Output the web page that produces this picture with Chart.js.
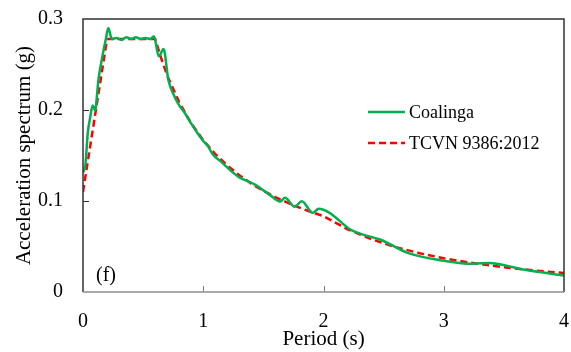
<!DOCTYPE html>
<html>
<head>
<meta charset="utf-8">
<script src="https://cdn.jsdelivr.net/npm/chart.js@4.4.1/dist/chart.umd.min.js"></script>
<style>
    html, body { margin: 0; padding: 0; background: #fff; }
    #wrap { width: 571px; height: 352px; }
</style>
</head>
<body>
<div id="wrap"><canvas id="spectrum"></canvas></div>
<script>
// 
// Values.
// 
var coalingaPeriod = [0, 0.02, 0.04, 0.06, 0.08, 0.10, 0.13, 0.16, 0.19, 0.21, 0.24, 0.28, 0.32,
    0.36, 0.40, 0.44, 0.48, 0.52, 0.56, 0.59, 0.63, 0.67, 0.71, 0.76, 0.80, 0.84, 0.90, 0.95,
    1.00, 1.04, 1.08, 1.15, 1.24, 1.30, 1.43, 1.55, 1.64, 1.68, 1.76, 1.82, 1.91, 1.96, 2.05,
    2.22, 2.33, 2.47, 2.70, 2.97, 3.24, 3.38, 3.52, 3.66, 3.80, 4.00];
var coalingaAccel = [0.131, 0.140, 0.175, 0.192, 0.205, 0.200, 0.235, 0.258, 0.278, 0.290, 0.278,
    0.279, 0.277, 0.280, 0.278, 0.280, 0.278, 0.279, 0.278, 0.281, 0.259, 0.267, 0.233, 0.215,
    0.205, 0.198, 0.185, 0.175, 0.166, 0.160, 0.151, 0.143, 0.132, 0.126, 0.118, 0.107, 0.0995,
    0.1035, 0.0937, 0.0998, 0.087, 0.0914, 0.087, 0.069, 0.063, 0.0577, 0.043, 0.035, 0.031,
    0.032, 0.029, 0.0247, 0.022, 0.018];

var tcvnPeriod = [0, 0.2, 0.6, 0.65, 0.7, 0.8, 0.9, 1.0, 1.1, 1.2, 1.3, 1.4, 1.5, 1.6, 1.7, 1.8,
    1.9, 2.0, 2.2, 2.4, 2.6, 2.8, 3.0, 3.2, 3.4, 3.6, 3.8, 4.0];
var tcvnAccel = [0.110, 0.278, 0.278, 0.257, 0.238, 0.2085, 0.1853, 0.1668, 0.1516, 0.139, 0.1283,
    0.1191, 0.1112, 0.1043, 0.0981, 0.0927, 0.0878, 0.0834, 0.0689, 0.0579, 0.0493, 0.0426,
    0.0371, 0.0326, 0.0289, 0.0257, 0.0231, 0.0209];

var seriesNames = ['Coalinga', 'TCVN 9386:2012'];
var xTicks = [0, 1, 2, 3, 4];
var yTicks = [0, 0.1, 0.2, 0.3];

var serif = "'Liberation Serif', 'Times New Roman', serif";

function toPoints(xs, ys) {
    var pts = [];
    for (var i = 0; i < xs.length; ++i) {
        pts.push({x: xs[i], y: ys[i]});
    }
    return pts;
}

// 
// Inner tick marks, plot frame, legend and panel label.
// 
var decorations = {
    id: 'decorations',
    afterDatasetsDraw: function (chart) {
        var ctx = chart.ctx, area = chart.chartArea;
        var xs = chart.scales.x, ys = chart.scales.y;

        ctx.save();
        ctx.lineWidth = 1;
        ctx.strokeStyle = '#7f7f7f';
        xTicks.slice(1, -1).forEach(function (v) {
            var px = Math.round(xs.getPixelForValue(v)) + 0.5;
            ctx.beginPath();
            ctx.moveTo(px, area.bottom);
            ctx.lineTo(px, area.bottom - 6);
            ctx.stroke();
        });
        ctx.strokeStyle = '#333';
        yTicks.slice(1, -1).forEach(function (v) {
            var py = Math.round(ys.getPixelForValue(v)) + 0.5;
            ctx.beginPath();
            ctx.moveTo(area.left, py);
            ctx.lineTo(area.left + 6, py);
            ctx.stroke();
        });

        // frame
        ctx.lineWidth = 1.5;
        ctx.strokeStyle = '#333';
        ctx.beginPath();
        ctx.moveTo(area.left, area.bottom);
        ctx.lineTo(area.left, area.top);
        ctx.lineTo(area.right, area.top);
        ctx.lineTo(area.right, area.bottom);
        ctx.stroke();
        ctx.strokeStyle = '#8c8c8c';
        ctx.beginPath();
        ctx.moveTo(area.left, area.bottom);
        ctx.lineTo(area.right, area.bottom);
        ctx.stroke();

        // legend
        ctx.font = '18px ' + serif;
        ctx.textBaseline = 'middle';
        ctx.fillStyle = '#000';
        var rows = [112, 143];
        chart.data.datasets.forEach(function (ds, i) {
            ctx.lineWidth = ds.borderWidth;
            ctx.strokeStyle = ds.borderColor;
            ctx.setLineDash(ds.borderDash || []);
            ctx.beginPath();
            ctx.moveTo(368, rows[i]);
            ctx.lineTo(405, rows[i]);
            ctx.stroke();
            ctx.setLineDash([]);
            ctx.fillText(ds.label, 409, rows[i] + 1);
        });

        ctx.font = '20px ' + serif;
        ctx.fillText('(f)', 96, 276);
        ctx.restore();
    }
};

var chart = new Chart(document.getElementById('spectrum'), {
    type: 'line',
    data: {
        datasets: [
            {
                label: seriesNames[0],
                data: toPoints(coalingaPeriod, coalingaAccel),
                borderColor: '#00B050',
                borderWidth: 2.5,
                pointRadius: 0,
                cubicInterpolationMode: 'monotone',
                fill: false
            },
            {
                label: seriesNames[1],
                data: toPoints(tcvnPeriod, tcvnAccel),
                borderColor: '#FF0000',
                borderWidth: 2.5,
                borderDash: [7, 4],
                pointRadius: 0,
                tension: 0,
                fill: false
            }
        ]
    },
    options: {
        responsive: true,
        maintainAspectRatio: false,
        animation: false,
        layout: {padding: {left: 0, top: 19, right: 7, bottom: 0}},
        plugins: {
            legend: {display: false},
            tooltip: {enabled: false}
        },
        scales: {
            x: {
                type: 'linear',
                min: 0,
                max: 4,
                afterFit: function (scale) {
                    scale.height = 60;
                    scale.paddingLeft = 0;
                    scale.paddingRight = 0;
                },
                afterBuildTicks: function (scale) {
                    scale.ticks = xTicks.map(function (v) { return {value: v}; });
                },
                grid: {display: false, drawTicks: false},
                border: {display: false},
                ticks: {
                    padding: 18,
                    color: '#000',
                    font: {family: serif, size: 20},
                    maxRotation: 0
                },
                title: {
                    display: true,
                    text: 'Period (s)',
                    color: '#000',
                    font: {family: serif, size: 21},
                    padding: {top: 0, bottom: 0}
                }
            },
            y: {
                min: 0,
                max: 0.3,
                afterFit: function (scale) {
                    scale.width = 83;
                    scale.paddingTop = 0;
                    scale.paddingBottom = 0;
                },
                afterBuildTicks: function (scale) {
                    scale.ticks = yTicks.map(function (v) { return {value: v}; });
                },
                grid: {display: false, drawTicks: false},
                border: {display: false},
                ticks: {
                    padding: 20,
                    color: '#000',
                    font: {family: serif, size: 20},
                    callback: function (v) { return v === 0 ? '0' : v.toFixed(1); }
                },
                title: {
                    display: true,
                    text: 'Acceleration spectrum (g)',
                    color: '#000',
                    font: {family: serif, size: 21},
                    padding: {top: 12, bottom: 0}
                }
            }
        }
    },
    plugins: [decorations]
});
</script>
</body>
</html>
